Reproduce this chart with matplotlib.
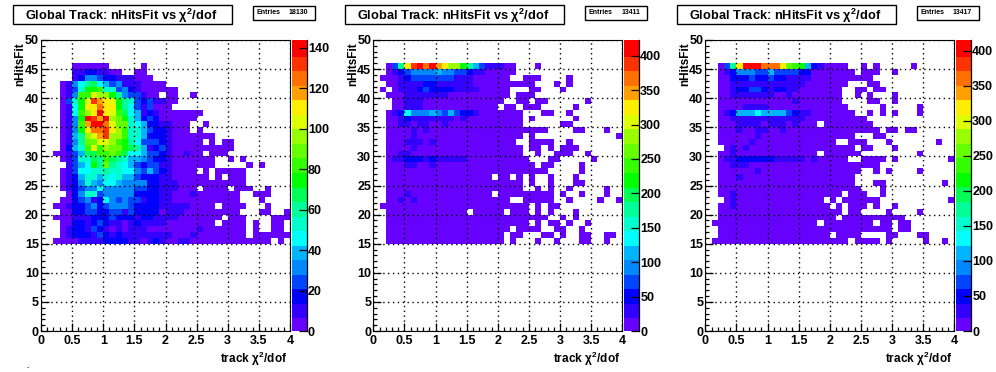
import numpy as np
import matplotlib
matplotlib.use('Agg')
import matplotlib.pyplot as plt
from matplotlib.colors import ListedColormap, BoundaryNorm
from matplotlib.patches import Rectangle
from matplotlib.ticker import MultipleLocator

plt.rcParams['font.family'] = ['Liberation Sans', 'DejaVu Sans']
plt.rcParams['font.weight'] = 'bold'
plt.rcParams['mathtext.fontset'] = 'custom'
plt.rcParams['mathtext.rm'] = 'Liberation Sans:bold'
plt.rcParams['mathtext.it'] = 'Liberation Sans:bold'
plt.rcParams['mathtext.bf'] = 'Liberation Sans:bold'

W, H = 996, 372

palette = ['#6600ff', '#3300ff', '#0000ff', '#0044ff', '#0088ff', '#00b4ff', '#00ffff',
           '#00ffcc', '#00ff99', '#00ff55', '#00ff00', '#33ff00', '#66ff00', '#99ff00',
           '#ddff00', '#ffee00', '#ffa000', '#ff7000', '#ff3300', '#ff0000']

# counts per bin, rows go nHitsFit 45 down to 15, columns chi2/dof 0-4 in 0.1 steps
# short rows are empty to the right
counts_a = [
    [0,0,0,0,0,3,3,3,3,3,3,0,0,0,0,0,3],
    [0,0,0,0,0,11,11,18,18,11,11,3,3,0,0,3,3],
    [0,0,0,0,0,11,18,32,32,25,18,18,11,11,11,3,3,3],
    [0,0,0,3,11,32,47,61,68,47,40,25,32,11,11,11,3,3,3,3],
    [0,0,0,3,11,25,54,75,75,83,54,54,25,32,18,11,3,3,3,3,3,3],
    [0,0,0,3,11,32,83,83,104,97,97,75,61,32,25,25,11,3,3,0,3,3,0,0,3],
    [0,0,0,3,25,54,75,104,133,119,111,104,75,61,54,25,18,25,11,11,3,3],
    [0,0,0,3,11,47,75,111,111,126,111,111,75,61,47,25,11,25,3,3,3],
    [0,0,0,3,11,47,83,97,111,140,111,104,83,68,47,40,11,18,11,3,3,3,3,3,3,3],
    [0,0,0,3,11,32,75,140,133,119,140,97,90,75,54,40,18,25,18,3,3,3,3,3,3],
    [0,0,0,3,11,32,83,119,140,140,126,104,90,90,54,47,40,18,18,11,11,3,3,3,0,0,3],
    [0,0,0,3,11,32,75,111,126,126,133,111,97,83,54,54,40,25,18,18,11,3,3,3,0,3],
    [0,0,0,3,11,40,61,97,104,119,133,97,97,83,54,54,40,18,18,18,11,3,3,3,3,3,3,3],
    [0,0,0,3,11,32,61,90,90,104,104,97,83,75,61,47,25,25,25,18,11,3,3,3,3,3,0,3,0,3,3],
    [0,0,0,3,18,40,54,83,104,83,97,90,90,75,68,61,40,11,18,25,11,3,3,3,3,3,3,3,3,3,3],
    [0,0,3,3,11,25,40,68,68,83,83,90,83,68,47,47,40,25,25,18,11,3,3,11,3,3,0,3,3,3],
    [0,0,0,3,11,25,54,54,68,61,83,68,61,54,40,40,32,25,18,18,11,3,3,3,3,3,3,3,0,0,3,0,3],
    [0,0,0,0,11,25,40,47,75,61,90,61,54,47,40,25,18,25,25,11,11,3,3,3,3,3,3,3,0,0,0,0,0,3,0,3],
    [0,0,0,3,11,25,47,47,54,54,61,54,54,47,47,32,25,40,25,18,11,3,3,3,3,0,3,0,3,3,3,3,3],
    [0,0,0,3,11,18,40,54,54,40,54,47,54,40,40,25,18,18,18,11,11,3,3,3,3,3,3,0,3,0,3,3,3],
    [0,0,0,3,11,18,32,54,40,32,47,47,40,32,32,32,32,18,18,11,11,11,3,3,3,3,3,3,3,3,3,3,3],
    [0,0,0,3,11,18,25,32,32,47,32,32,32,32,32,25,25,18,18,11,11,11,3,3,3,0,3,3,3,3,0,3,3,3,0,0,3],
    [0,0,0,0,3,18,32,54,54,25,32,32,32,32,32,18,18,18,18,11,11,3,3,3,11,3,3,3,3,3,3,3,0,0,3,3,3],
    [0,0,0,3,3,18,25,32,11,18,47,32,25,32,25,25,11,18,18,11,11,3,3,3,3,3,3,3,3,3,3,3,0,0,0,3],
    [0,0,3,3,11,18,18,25,32,18,25,32,32,32,25,18,18,18,18,11,11,11,11,11,3,3,3,3,0,3,3,3,3,0,0,0,3],
    [0,0,0,3,3,18,18,25,25,18,18,25,25,11,25,18,18,18,18,3,11,11,11,3,3,3,3,3,3,3,3,3,0,0,0,3,3,0,0,3],
    [0,0,3,3,3,11,11,11,18,18,18,25,18,18,18,11,18,18,11,11,11,11,3,3,3,3,3,3,3,0,3,3,3,0,0,0,0,3,3,3],
    [0,0,0,3,3,18,18,11,18,25,18,11,11,3,11,18,11,11,11,11,3,3,3,3,3,3,3,3,0,3,3,3,3,0,3,0,0,3,3],
    [0,0,0,3,11,18,18,11,25,18,11,3,11,3,11,11,11,3,3,3,3,3,3,3,3,11,3,3,3,3,3,3,3,0,3,0,0,3,3],
    [0,0,0,3,11,18,18,18,11,25,18,11,18,11,11,11,11,11,11,11,11,3,3,3,11,3,3,3,3,3,3,3,3,0,3,3,3,3,3,3],
    [0,0,3,3,3,3,11,11,11,11,18,18,18,18,11,11,3,11,18,11,3,3,11,11,3,3,3,3,3,3,3,3,3,3,3,3,3,0,3],
]
counts_b = [
    [0,0,10,74,190,327,390,411,369,411,348,327,285,285,222,179,116,74,32,32,32,10,10,0,0,0,10],
    [0,0,10,32,53,74,95,95,95,95,116,95,95,74,74,53,32,32,10,10,10,10,10],
    [0,10,10,10,32,53,74,74,74,74,74,74,74,32,32,32,10,10,10,10,10,10,0,0,10,10,10,0,0,0,0,10],
    [0,0,10,10,32,32,32,32,53,53,32,32,32,32,32,32,10,10,10,10,10,10,10,10,10,10,0,0,0,10,0,10],
    [0,10,0,10,32,32,32,53,74,53,53,53,53,32,32,32,32,10,10,10,10,10,0,0,0,10,10,0,0,0,10],
    [0,0,10,10,10,32,32,32,32,32,32,32,10,10,10,10,10,10,10,10,10,10,0,10,10,10],
    [0,0,0,10,10,32,32,32,10,10,10,10,10,10,10,10,10,10,10,10,10,0,0,10,10,0,10,10,0,0,0,0,0,0,10],
    [0,0,0,10,10,32,32,32,10,10,10,10,10,10,10,10,10,10,10,10,0,10,10,0,10,10,10,0,0,0,0,0,10],
    [0,0,10,32,53,137,95,95,95,116,95,74,116,74,53,53,32,10,10,10,10,10,10,10,0,0,0,10,10,0,0,10],
    [0,0,10,10,32,53,32,32,32,32,32,32,32,10,32,10,10,10,10,10,10,10,10,10,0,10,0,0,0,0,0,0,10],
    [0,0,10,10,32,32,10,32,32,10,10,32,10,10,10,10,10,10,10,10,10,10,10,10,0,0,0,0,0,0,10,10],
    [0,0,10,10,10,10,32,10,32,10,10,10,10,10,10,10,10,10,10,10,10,10,10,10,10,10,10,10,0,0,0,0,10,10,0,0,0,10],
    [0,0,10,10,10,10,32,10,10,10,10,10,10,10,10,10,10,10,10,10,10,10,10,10,0,10,0,0,0,0,0,0,0,0,0,0,0,0,0,10],
    [0,0,10,10,10,32,32,32,10,32,10,10,10,10,10,10,10,10,10,10,10,10,10,0,0,10,10,10,10,0,0,10],
    [0,0,10,10,10,10,32,10,10,10,10,10,10,10,10,10,10,10,10,10,10,10,10,10,0,10,10,0,10,0,10,10,10],
    [0,0,10,10,32,32,10,10,10,10,10,10,10,10,10,10,10,10,10,10,10,10,10,10,0,0,10,0,0,10,10,10,0,0,10],
    [0,0,10,32,32,53,53,53,32,53,32,32,32,32,32,10,10,10,10,10,10,10,10,10,10,0,0,0,10,10,0,0,0,0,0,10],
    [0,0,10,10,10,32,32,10,10,32,10,10,10,10,10,10,10,10,10,10,10,10,10,10,10,10,0,10,10,0,0,0,0,10],
    [0,0,10,10,10,10,10,10,10,10,10,10,10,10,10,10,10,10,10,10,10,10,10,10,10,10,10,10,0,0,0,0,0,10],
    [0,0,10,10,10,10,10,10,10,10,10,10,10,10,10,10,10,10,10,0,10,10,0,10,0,10,0,0,10,0,0,0,10],
    [0,0,10,10,10,10,10,10,10,10,10,10,10,10,10,10,10,10,10,10,10,10,10,10,0,10,0,0,10,0,0,0,10,10],
    [0,0,10,10,10,10,10,10,10,10,10,10,10,10,10,10,10,10,10,10,10,10,10,10,0,0,10,0,10,0,0,10,0,0,0,0,0,10],
    [0,0,10,10,10,32,10,10,10,10,10,10,10,10,10,10,10,10,10,0,10,10,10,10,10,10,10,10,10,0,10,0,0,10,0,0,0,10],
    [0,0,10,10,32,10,32,10,10,10,10,10,10,10,10,10,10,10,10,10,10,10,0,0,10,10,10,10,10,0,0,10,0,0,0,0,10,0,0,10],
    [0,10,10,10,10,10,10,10,10,10,10,10,10,10,10,10,10,10,10,10,10,10,10,10,10,0,10,0,10,10,0,0,0,0,0,0,0,0,0,0],
    [0,0,10,10,10,10,10,10,10,10,10,10,10,10,10,0,10,10,10,10,10,0,10,10,10,0,10,0,10,0,0,0,10],
    [0,0,10,10,10,10,10,10,10,10,10,10,10,10,10,10,10,10,10,10,10,10,10,10,10,10,10,10,0,0,10,0,10],
    [0,0,10,10,10,10,10,10,10,10,10,10,10,10,10,10,10,10,10,10,10,10,10,10,10,0,10,0,10,10,0,10,0,0,10],
    [0,0,10,10,10,10,10,10,10,10,10,10,10,10,10,10,10,10,10,10,10,10,0,10,10,10,10,0,0,10,10,0,0,10],
    [0,0,10,10,10,10,10,10,10,10,10,10,10,10,10,10,10,10,10,10,10,0,10,10,0,0,0,10,10,0,10,0,0,10,10,0,0,10,10],
    [0,0,10,10,10,10,10,10,10,10,10,10,10,10,10,10,10,10,10,10,10,0,10,0,0,0,10,0,0,10,0,0,0,10,10,0,0,10],
]
counts_c = [
    [0,0,10,73,176,322,405,405,405,363,363,363,322,259,239,218,114,52,31,10,10,10,10,0,0,10,0,10,0,0,0,0,0,10],
    [0,0,10,31,52,93,93,93,73,73,114,73,73,73,73,52,52,10,10,10,10,10,10,10,0,10,10,10,0,0,10],
    [0,0,10,10,52,52,52,73,52,52,73,52,52,31,31,31,31,10,10,10,10,10,10,10,10,10,10],
    [0,0,10,10,31,31,31,31,31,31,31,31,31,31,31,31,10,10,10,10,10,10,10,0,0,0,10,10],
    [0,0,10,10,31,52,52,73,73,52,31,52,52,31,31,10,10,10,10,10,10,10,0,0,10,10,0,10,10],
    [0,0,10,10,31,31,31,31,31,31,31,10,10,31,10,10,10,10,10,10,10,10,0,0,10,0,10,0,0,0,10],
    [0,0,10,10,10,10,10,10,10,10,10,10,10,10,31,10,10,10,10,10,10,10,0,0,0,0,10,10,0,0,10],
    [0,0,10,10,10,10,31,31,31,31,10,10,10,10,10,10,10,10,10,10,10,10,10,0,0,0,0,0,10,0,0,0,0,0,10],
    [0,0,10,31,52,114,114,114,135,114,114,114,114,73,52,31,31,10,10,10,10,10,10,10,0,0,10,0,10,0,10,0,0,0,10],
    [0,0,10,10,31,31,31,31,31,31,31,31,31,31,31,31,10,10,10,10,10,10,10,10,10,10],
    [0,0,10,10,10,31,31,31,31,10,31,31,31,10,31,10,10,10,0,10,10,10,10,10,10,10,10],
    [0,0,10,10,10,31,10,10,31,31,10,10,31,10,10,10,10,10,10,10,10,10,10,10,10,10,10,10,0,10,10,0,10,10],
    [0,0,10,10,10,10,10,10,31,10,10,10,10,10,10,10,10,10,10,10,10,10,10,10,0,0,0,10,10],
    [0,0,10,10,10,10,10,31,10,10,10,10,10,10,10,10,10,10,10,10,10,0,0,10,10,10,0,0,0,10,0,0,0,0,0,0,0,10],
    [0,0,0,10,31,10,31,10,10,10,10,10,10,10,10,10,10,10,10,10,10,10,10,10,0,10,10,0,0,0,10],
    [0,0,10,10,31,10,10,10,10,10,10,10,10,10,10,10,10,10,0,10,10,10,10,10,10,0,0,0,0,0,0,0,0,0,10],
    [0,0,10,31,31,52,52,52,52,52,52,31,31,31,31,31,10,31,10,10,10,10,10,0,0,10,10,10,10,0,10,0,0,0,0,0,0,0,0,10],
    [0,0,10,10,31,31,31,10,10,10,10,10,10,10,10,10,10,10,10,10,10,10,10,10,10,10,10,10],
    [0,0,10,10,10,10,10,10,31,10,10,10,10,10,10,10,10,10,10,10,10,10,10,10,10,0,0,10,0,10,0,0,0,0,10],
    [0,0,10,10,10,31,10,10,10,10,10,10,10,10,10,10,10,10,10,10,10,10,10,10,0,0,0,0,0,0,0,0,0,0,0,0,0,0],
    [0,0,10,10,10,10,10,10,10,10,10,10,10,10,10,10,10,10,10,10,10,10,10,10,0,0,0,10,10,0,0,0,0,0,0,0,0,0,10],
    [0,0,10,10,10,10,10,10,10,10,10,10,10,10,10,10,10,10,10,10,10,10,10,10,10,0,0,0,10],
    [0,0,10,10,31,10,10,10,10,10,10,10,10,10,10,10,10,10,10,10,10,10,0,10,10,10,0,0,10],
    [0,0,0,10,31,10,10,10,10,10,10,10,10,10,10,10,10,10,10,0,10,0,10,10,10,10,10,10,0,0,0,0,0,0,0,0,0,0,0,10],
    [0,0,10,10,31,10,10,10,10,10,10,10,10,10,10,10,10,10,10,10,0,10,0,10,10,10,0,10,0,0,10],
    [0,0,10,10,10,10,10,10,10,10,10,10,10,10,10,10,10,10,10,10,10,10,0,10,10,0,0,0,0,10,0,0,0,0,10],
    [0,0,10,10,10,10,10,10,10,10,10,10,10,10,10,10,10,10,10,10,10,0,10,10,10,10,10,10,10,10,10,10],
    [0,10,10,10,10,10,10,10,10,10,10,10,10,10,10,10,10,10,0,10,10,10,10,10,10,10,10,0,10,10,0,10,10],
    [0,0,10,10,10,10,10,10,10,10,10,10,10,10,10,10,10,10,10,10,10,10,10,10,10,10,10,10,10,10,0,10,10],
    [0,0,10,10,10,10,10,10,10,10,10,10,10,10,10,10,10,10,10,10,0,10,10,10,10,0,0,0,0,10,10,0,0,0,10,10],
    [0,10,10,10,10,10,10,10,10,10,10,10,10,10,10,10,10,10,10,10,10,10,10,0,10,10,10,10,0,10,0,0,0,0,0,10,0,0,10],
]

title_text = r'Global Track: nHitsFit vs $\chi^{2}$/dof'
entries = [18130, 13411, 13417]
z_max = [143.8, 422.8, 415.0]
z_ticks = [np.arange(0, 141, 20), np.arange(0, 401, 50), np.arange(0, 401, 50)]
x_ticks = [0, 0.5, 1, 1.5, 2, 2.5, 3, 3.5, 4]
x_tick_labels = ['0', '0.5', '1', '1.5', '2', '2.5', '3', '3.5', '4']
y_ticks = [0, 5, 10, 15, 20, 25, 30, 35, 40, 45, 50]


def box(x0, y0, x1, y1):
    # pixel box, y measured from the top
    return [x0 / W, 1 - y1 / H, (x1 - x0) / W, (y1 - y0) / H]


def to_grid(rows):
    grid = np.zeros((len(rows), 40))
    for i, row in enumerate(rows):
        grid[i, :len(row)] = row
    return grid[::-1]


def draw_panel(fig, rows, left, title_x, entries_x, n_entries, zmax, zticks):
    ax = fig.add_axes(box(left, 40, left + 249, 331))
    grid = to_grid(rows)
    edges = np.linspace(0, zmax, 21)
    cmap = ListedColormap(palette)
    norm = BoundaryNorm(edges, 20)
    x_edges = np.linspace(0, 4, 41)
    y_edges = np.arange(15, 47)
    mesh = ax.pcolormesh(x_edges, y_edges, np.ma.masked_equal(grid, 0), cmap=cmap, norm=norm)

    ax.set_xlim(0, 4)
    ax.set_ylim(0, 50)
    ax.set_xticks(x_ticks)
    ax.set_xticklabels(x_tick_labels)
    ax.set_yticks(y_ticks)
    ax.xaxis.set_minor_locator(MultipleLocator(0.1))
    ax.yaxis.set_minor_locator(MultipleLocator(1))
    ax.tick_params(which='major', direction='in', length=5.8, width=0.9, labelsize=9, pad=3)
    ax.tick_params(axis='y', which='major', pad=1.5)
    ax.tick_params(which='minor', direction='in', length=2.9, width=0.9)
    ax.set_axisbelow(False)
    ax.grid(True, which='major', color='black', linestyle=(0, (1, 2.5)), linewidth=1.0)

    cax = fig.add_axes(box(left + 251, 40, left + 265.5, 331))
    cb = fig.colorbar(mesh, cax=cax, spacing='proportional', ticks=zticks)
    cb.outline.set_visible(False)
    cb.solids.set_edgecolor('face')
    cax.spines['right'].set_visible(True)
    cax.spines['right'].set_linewidth(0.9)
    cax.minorticks_off()
    cax.tick_params(direction='in', length=5.8, width=0.9, labelsize=9, pad=1, right=True)

    # title and entries boxes
    fig.add_artist(Rectangle((title_x / W, 1 - 24.3 / H), 218.3 / W, 19 / H, transform=fig.transFigure,
                             facecolor='white', edgecolor='black', linewidth=1))
    fig.text((title_x + 11.5) / W, 1 - 15.5 / H, title_text, fontsize=9.2, va='center', ha='left')
    fig.add_artist(Rectangle((entries_x / W, 1 - 20.3 / H), 62 / W, 14.6 / H, transform=fig.transFigure,
                             facecolor='white', edgecolor='black', linewidth=1))
    fig.text((entries_x + 3) / W, 1 - 12.5 / H, 'Entries', fontsize=5, va='center', ha='left')
    fig.text((entries_x + 55) / W, 1 - 12.5 / H, str(n_entries), fontsize=5, va='center', ha='right')

    # axis titles placed like ROOT does, flush with the axis end
    fig.text((left + 246.5) / W, 1 - 359 / H, r'track $\chi^{2}$/dof', fontsize=8.5, va='center', ha='right')
    fig.text((left - 20.5) / W, 1 - 42.5 / H, 'nHitsFit', fontsize=8.5, va='top', ha='center', rotation=90)


fig = plt.figure(figsize=(W / 100, H / 100), dpi=100, facecolor='white')
draw_panel(fig, counts_a, 41, 13.3, 253.3, entries[0], z_max[0], z_ticks[0])
draw_panel(fig, counts_b, 373.3, 345.3, 585.3, entries[1], z_max[1], z_ticks[1])
draw_panel(fig, counts_c, 705.3, 677.3, 917.3, entries[2], z_max[2], z_ticks[2])
fig.text(28 / W, 1 - 366 / H, '.', fontsize=6, ha='center', va='center')
fig.savefig('out.png', dpi=100)
